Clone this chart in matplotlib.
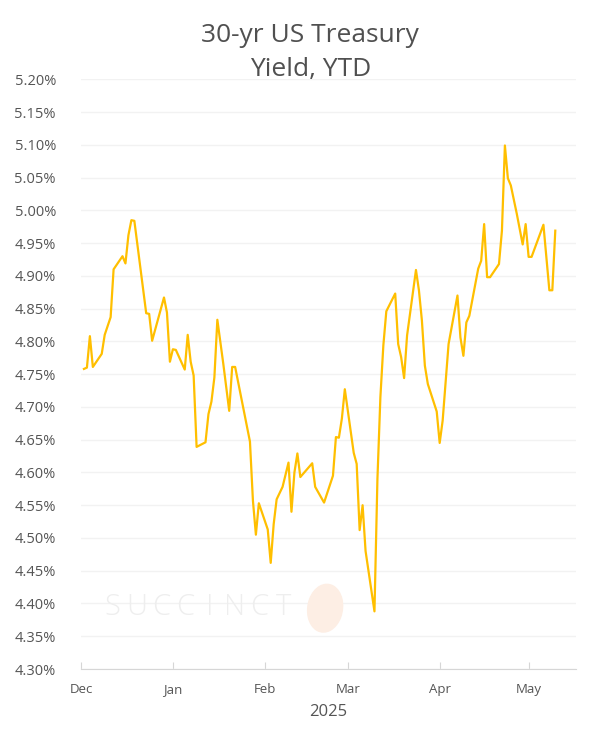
import numpy as np
import pandas as pd
import matplotlib.pyplot as plt
import matplotlib.dates as mdates
from matplotlib.patches import Ellipse

plt.rcParams['font.family'] = ['Open Sans', 'DejaVu Sans']

# 30-yr US Treasury yield
dates = [
    '2024-12-02', '2024-12-03', '2024-12-04', '2024-12-05', '2024-12-08', '2024-12-09',
    '2024-12-11', '2024-12-12', '2024-12-15', '2024-12-16', '2024-12-17', '2024-12-18',
    '2024-12-19', '2024-12-23', '2024-12-24', '2024-12-25', '2024-12-29', '2024-12-30',
    '2024-12-31', '2025-01-01', '2025-01-02', '2025-01-05', '2025-01-06', '2025-01-07',
    '2025-01-08', '2025-01-09', '2025-01-12', '2025-01-13', '2025-01-14', '2025-01-15',
    '2025-01-16', '2025-01-18', '2025-01-20', '2025-01-21', '2025-01-22', '2025-01-27',
    '2025-01-28', '2025-01-29', '2025-01-30', '2025-02-02', '2025-02-03', '2025-02-04',
    '2025-02-05', '2025-02-07', '2025-02-09', '2025-02-10', '2025-02-11', '2025-02-12',
    '2025-02-13', '2025-02-17', '2025-02-18', '2025-02-21', '2025-02-24', '2025-02-25',
    '2025-02-26', '2025-02-27', '2025-02-28', '2025-03-03', '2025-03-04', '2025-03-05',
    '2025-03-06', '2025-03-07', '2025-03-10', '2025-03-11', '2025-03-12', '2025-03-13',
    '2025-03-14', '2025-03-17', '2025-03-18', '2025-03-19', '2025-03-20', '2025-03-21',
    '2025-03-24', '2025-03-25', '2025-03-26', '2025-03-27', '2025-03-28', '2025-03-31',
    '2025-04-01', '2025-04-02', '2025-04-04', '2025-04-07', '2025-04-08', '2025-04-09',
    '2025-04-10', '2025-04-11', '2025-04-14', '2025-04-15', '2025-04-16', '2025-04-17',
    '2025-04-18', '2025-04-21', '2025-04-22', '2025-04-23', '2025-04-24', '2025-04-25',
    '2025-04-27', '2025-04-29', '2025-04-30', '2025-05-01', '2025-05-02', '2025-05-06',
    '2025-05-08', '2025-05-09', '2025-05-10',
]
yields = [
    4.758, 4.760, 4.808, 4.761, 4.781, 4.810,
    4.837, 4.910, 4.930, 4.919, 4.962, 4.985,
    4.984, 4.843, 4.842, 4.801, 4.867, 4.844,
    4.769, 4.788, 4.787, 4.757, 4.810, 4.769,
    4.748, 4.639, 4.646, 4.689, 4.708, 4.745,
    4.833, 4.766, 4.694, 4.761, 4.761, 4.647,
    4.557, 4.505, 4.553, 4.513, 4.462, 4.521,
    4.559, 4.578, 4.615, 4.540, 4.600, 4.629,
    4.593, 4.614, 4.578, 4.554, 4.595, 4.654,
    4.653, 4.682, 4.727, 4.630, 4.613, 4.512,
    4.550, 4.480, 4.388, 4.590, 4.715, 4.794,
    4.846, 4.873, 4.796, 4.776, 4.744, 4.809,
    4.909, 4.878, 4.832, 4.763, 4.735, 4.693,
    4.645, 4.679, 4.796, 4.870, 4.806, 4.778,
    4.829, 4.839, 4.911, 4.923, 4.979, 4.898,
    4.898, 4.918, 4.969, 5.099, 5.049, 5.038,
    4.995, 4.948, 4.979, 4.929, 4.929, 4.978,
    4.878, 4.878, 4.969,
]
x = pd.to_datetime(dates)

fig = plt.figure(figsize=(5.89, 7.39), dpi=100)
ax = fig.add_axes([0.1375, 0.0947, 0.8405, 0.798])

ax.plot(x, yields, color='#FFBF00', linewidth=1.6, zorder=3)

ax.set_ylim(4.30, 5.20)
ax.set_yticks(np.arange(4.30, 5.2001, 0.05))
ax.yaxis.set_major_formatter(plt.FuncFormatter(lambda v, p: f'{v:.2f}%'))
ax.set_xlim(pd.Timestamp('2024-12-01'), pd.Timestamp('2025-05-17'))
ax.xaxis.set_major_locator(mdates.MonthLocator())
ax.xaxis.set_major_formatter(mdates.DateFormatter('%b'))

ax.grid(axis='y', color='#f2f2f2', linewidth=1)
ax.set_axisbelow(True)
for s in ['top', 'right', 'left']:
    ax.spines[s].set_visible(False)
ax.spines['bottom'].set_color('#d6d6d6')
ax.tick_params(axis='y', length=0, pad=18, labelsize=10.5, labelcolor='#555555')
ax.tick_params(axis='x', direction='in', length=5, color='#d6d6d6',
               pad=10, labelsize=9.5, labelcolor='#555555')

ax.set_xlabel('2025', fontsize=12, color='#555555', labelpad=6)
fig.text(0.527, 0.929, '30-yr US Treasury\nYield, YTD', ha='center', va='center',
         fontsize=19, color='#505050', linespacing=1.45)

# faint watermark
for i, ch in enumerate('SUCCINCT'):
    fig.text((112 + i * 24.5) / 589, 0.178, ch, fontsize=21, fontweight='light',
             color='#eeeeee', ha='center', va='center', zorder=0)
fig.patches.append(Ellipse((0.552, 0.177), 0.058, 0.066, angle=-25,
                           transform=fig.transFigure, color='#fdeee4', zorder=0))

fig.savefig('out.png', dpi=100)
